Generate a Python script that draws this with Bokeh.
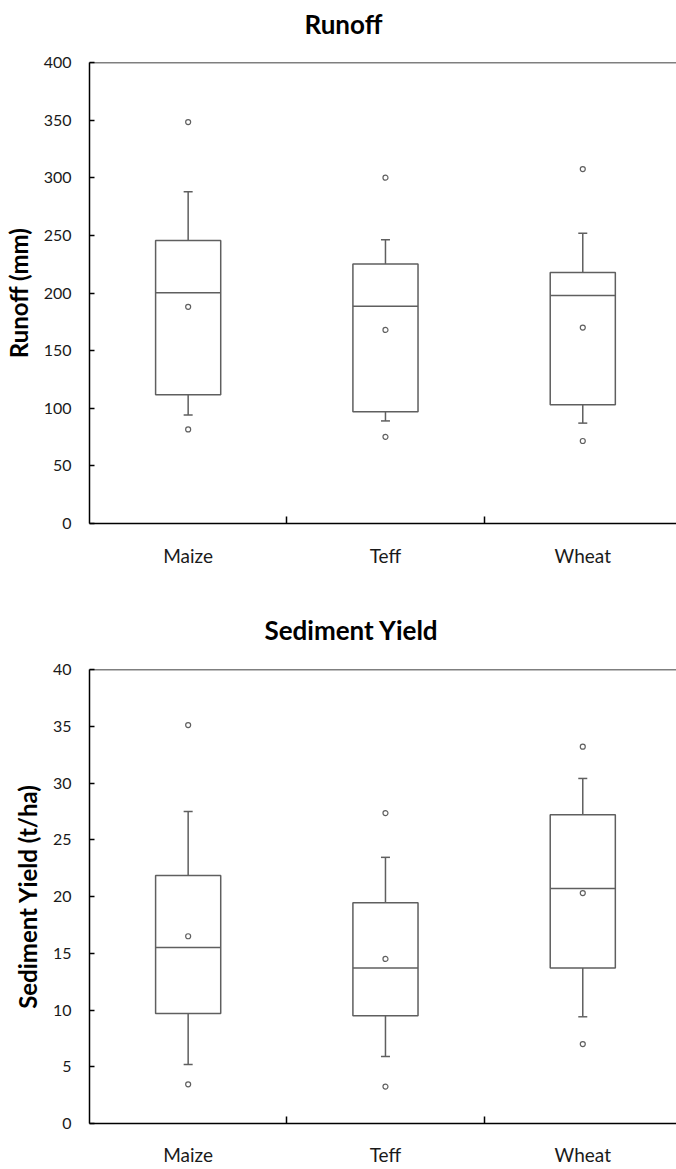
from bokeh.plotting import figure
from bokeh.layouts import column
from bokeh.models import Range1d, FixedTicker, Span, CustomJSTickFormatter, Title
from bokeh.embed import file_html
from bokeh.resources import INLINE

categories = ["Maize", "Teff", "Wheat"]

# Runoff (mm)
runoff_whisker_low = [94.1, 89.0, 87.1]
runoff_q1 = [111.8, 97.0, 103.1]
runoff_median = [200.2, 188.6, 197.9]
runoff_q3 = [245.5, 225.2, 217.8]
runoff_whisker_high = [287.9, 246.1, 251.9]
runoff_mean = [188.0, 168.0, 170.0]
runoff_max = [348.3, 300.1, 307.5]
runoff_min = [81.6, 75.2, 71.6]

# Sediment yield (t/ha)
sed_whisker_low = [5.2, 5.9, 9.4]
sed_q1 = [9.7, 9.5, 13.7]
sed_median = [15.5, 13.7, 20.7]
sed_q3 = [21.85, 19.45, 27.2]
sed_whisker_high = [27.5, 23.45, 30.4]
sed_mean = [16.5, 14.5, 20.3]
sed_max = [35.1, 27.35, 33.2]
sed_min = [3.45, 3.25, 7.0]

FONT = "Lato"
GRAY = "#5f5f5f"
BOX_W = 0.33


def make_chart(title, ylabel, ymax, ystep, wl, q1, med, q3, wh, mean, mx, mn,
               frame_h, border_top, border_bottom, label_standoff,
               title_offset, title_gap):
    xs = [i + 0.5 for i in range(len(categories))]
    p = figure(frame_width=587, frame_height=frame_h, output_backend="svg",
               toolbar_location=None, x_range=Range1d(0, 2.975),
               y_range=Range1d(0, ymax), title=None)
    p.min_border_left = 89
    p.min_border_right = 0
    p.min_border_top = border_top
    p.min_border_bottom = border_bottom
    p.outline_line_color = None
    p.xgrid.visible = False
    p.ygrid.visible = False
    p.background_fill_color = "white"
    p.border_fill_color = "white"

    # spacer between frame and title, then the title itself
    p.add_layout(Title(text=" ", text_font_size="1px", standoff=title_gap),
                 "above")
    p.add_layout(Title(text=title, align="left", offset=title_offset,
                       standoff=0, text_font=FONT, text_font_style="bold",
                       text_font_size="26px", text_color="black"), "above")

    # x axis
    xa = p.xaxis[0]
    xa.ticker = FixedTicker(ticks=xs, minor_ticks=[1, 2])
    xa.formatter = CustomJSTickFormatter(args=dict(cats=categories),
                                         code="return cats[Math.floor(tick)];")
    xa.major_tick_line_color = None
    xa.minor_tick_in = 7
    xa.minor_tick_out = 0
    xa.minor_tick_line_color = "black"
    xa.minor_tick_line_width = 1.5
    xa.axis_line_color = "black"
    xa.axis_line_width = 1.5
    xa.major_label_text_font = FONT
    xa.major_label_text_font_size = "19px"
    xa.major_label_text_color = "#1a1a1a"
    xa.major_label_standoff = label_standoff

    # y axis
    ya = p.yaxis[0]
    ya.ticker = FixedTicker(ticks=list(range(0, ymax + 1, ystep)))
    ya.minor_tick_line_color = None
    ya.major_tick_in = 5
    ya.major_tick_out = 0
    ya.major_tick_line_color = "black"
    ya.major_tick_line_width = 1.5
    ya.axis_line_color = "black"
    ya.axis_line_width = 1.5
    ya.major_label_text_font = FONT
    ya.major_label_text_font_size = "16px"
    ya.major_label_text_color = "#1a1a1a"
    ya.major_label_standoff = 18
    ya.axis_label = ylabel
    ya.axis_label_text_font = FONT
    ya.axis_label_text_font_style = "bold"
    ya.axis_label_text_font_size = "24px"
    ya.axis_label_text_color = "black"
    ya.axis_label_standoff = 8

    p.add_layout(Span(location=ymax, dimension="width", line_color="black",
                      line_width=1.5))

    # whiskers
    p.segment(x0=xs, y0=q3, x1=xs, y1=wh, line_color=GRAY, line_width=1.5)
    p.segment(x0=xs, y0=q1, x1=xs, y1=wl, line_color=GRAY, line_width=1.5)
    p.scatter(x=xs + xs, y=wh + wl, marker="dash", size=9,
              line_color=GRAY, line_width=1.5)
    # boxes
    p.vbar(x=xs, width=BOX_W, bottom=q1, top=q3, fill_color="white",
           line_color=GRAY, line_width=1.5)
    p.segment(x0=[x - BOX_W / 2 for x in xs], y0=med,
              x1=[x + BOX_W / 2 for x in xs], y1=med,
              line_color=GRAY, line_width=1.5)
    # points
    p.scatter(x=xs * 3, y=mean + mx + mn, marker="circle", size=5,
              fill_color="white", line_color=GRAY, line_width=1.2)
    return p


p1 = make_chart("Runoff", "Runoff (mm)", 400, 50,
                runoff_whisker_low, runoff_q1, runoff_median, runoff_q3,
                runoff_whisker_high, runoff_mean, runoff_max, runoff_min,
                frame_h=461, border_top=62, border_bottom=57,
                label_standoff=14, title_offset=215, title_gap=20)
p2 = make_chart("Sediment Yield", "Sediment Yield (t/ha)", 40, 5,
                sed_whisker_low, sed_q1, sed_median, sed_q3,
                sed_whisker_high, sed_mean, sed_max, sed_min,
                frame_h=454, border_top=89, border_bottom=0,
                label_standoff=13, title_offset=175, title_gap=21)

layout = column(p1, p2, spacing=0)
open("out.html", "w").write(file_html(layout, INLINE))
